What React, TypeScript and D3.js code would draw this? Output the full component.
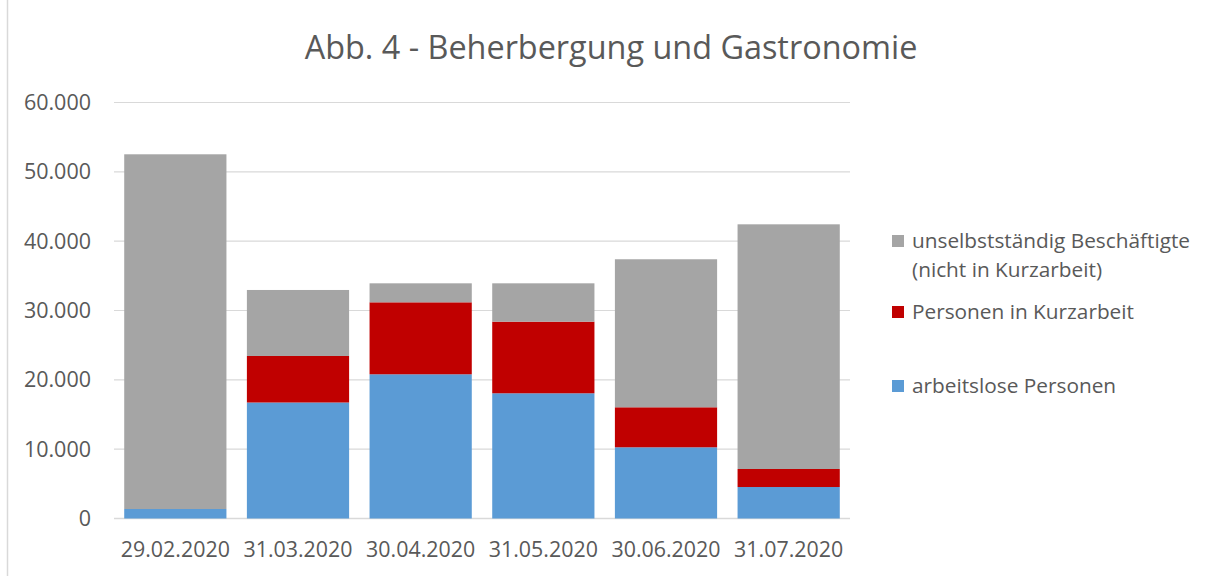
import { useEffect, useRef } from 'react';
import * as d3 from 'd3';

const dates = ["29.02.2020", "31.03.2020", "30.04.2020", "31.05.2020", "30.06.2020", "31.07.2020"];
const arbeitslos = [1370, 16730, 20800, 18060, 10270, 4540];
const kurzarbeit = [0, 6710, 10380, 10330, 5770, 2600];
const beschaeftigt = [51160, 9520, 2740, 5530, 21350, 35290];
const yTicks = [0, 10000, 20000, 30000, 40000, 50000, 60000];

const seriesKeys = ["arbeitslos", "kurzarbeit", "beschaeftigt"];
const seriesColors = { arbeitslos: "#5b9bd5", kurzarbeit: "#c00000", beschaeftigt: "#a5a5a5" };

const W = 1215;
const H = 576;
const FONT = "'Open Sans', Lato, sans-serif";
const TEXT = "#595959";

const App = () => {
  const svgRef = useRef<SVGSVGElement>(null);

  useEffect(() => {
    if (!svgRef.current) return;
    const svg = d3.select(svgRef.current);
    svg.selectAll("*").remove();

    const plot = { left: 114, right: 850, top: 102.5, bottom: 518.5 };

    // outer frame line (left edge of chart area)
    svg.append("line")
      .attr("x1", 7.5).attr("x2", 7.5)
      .attr("y1", 0).attr("y2", H)
      .attr("stroke", "#d9d9d9").attr("stroke-width", 1.5);

    // title
    svg.append("text")
      .attr("x", 611)
      .attr("y", 59)
      .attr("text-anchor", "middle")
      .style("font-family", FONT)
      .style("font-size", "32.4px")
      .style("fill", TEXT)
      .text("Abb. 4 - Beherbergung und Gastronomie");

    const x = d3.scaleBand()
      .domain(dates)
      .range([plot.left, plot.right])
      .paddingInner(0.1667)
      .paddingOuter(0.0833);

    const y = d3.scaleLinear()
      .domain([0, 60000])
      .range([plot.bottom, plot.top]);

    // gridlines
    svg.append("g")
      .selectAll("line")
      .data(yTicks)
      .enter()
      .append("line")
      .attr("x1", plot.left)
      .attr("x2", plot.right)
      .attr("y1", d => y(d))
      .attr("y2", d => y(d))
      .attr("stroke", "#d9d9d9")
      .attr("stroke-width", d => d === 0 ? 1.5 : 1.2);

    // y labels
    const fmt = (v: number) => v === 0 ? "0" : d3.format(",")(v).replace(/,/g, ".");
    svg.append("g")
      .selectAll("text")
      .data(yTicks)
      .enter()
      .append("text")
      .attr("x", 91)
      .attr("y", d => y(d))
      .attr("dy", "0.35em")
      .attr("text-anchor", "end")
      .style("font-family", FONT)
      .style("font-size", "21.5px")
      .style("fill", TEXT)
      .text(d => fmt(d));

    // stacked bars
    const table = dates.map((date, i) => ({
      date,
      arbeitslos: arbeitslos[i],
      kurzarbeit: kurzarbeit[i],
      beschaeftigt: beschaeftigt[i],
    }));
    const stacked = d3.stack<any>().keys(seriesKeys)(table);

    svg.append("g")
      .selectAll("g")
      .data(stacked)
      .enter()
      .append("g")
      .attr("fill", d => seriesColors[d.key as keyof typeof seriesColors])
      .selectAll("rect")
      .data(d => d)
      .enter()
      .append("rect")
      .attr("x", d => x(d.data.date) as number)
      .attr("width", x.bandwidth())
      .attr("y", d => y(d[1]))
      .attr("height", d => y(d[0]) - y(d[1]));

    // x labels
    svg.append("g")
      .selectAll("text")
      .data(dates)
      .enter()
      .append("text")
      .attr("x", d => (x(d) as number) + x.bandwidth() / 2)
      .attr("y", 550)
      .attr("dy", "0.35em")
      .attr("text-anchor", "middle")
      .style("font-family", FONT)
      .style("font-size", "21.4px")
      .style("fill", TEXT)
      .text(d => d);

    // legend
    const legend = [
      { key: "beschaeftigt", lines: ["unselbstständig Beschäftigte", "(nicht in Kurzarbeit)"], y: 241 },
      { key: "kurzarbeit", lines: ["Personen in Kurzarbeit"], y: 312 },
      { key: "arbeitslos", lines: ["arbeitslose Personen"], y: 386 },
    ];
    const lg = svg.append("g");
    legend.forEach(item => {
      lg.append("rect")
        .attr("x", 892)
        .attr("y", item.y - 6)
        .attr("width", 12)
        .attr("height", 12)
        .attr("fill", seriesColors[item.key as keyof typeof seriesColors]);
      item.lines.forEach((line, j) => {
        lg.append("text")
          .attr("x", 912)
          .attr("y", item.y + j * 29)
          .attr("dy", "0.35em")
          .style("font-family", FONT)
          .style("font-size", "20.8px")
          .style("fill", TEXT)
          .text(line);
      });
    });
  }, []);

  return (
    <svg
      ref={svgRef}
      width={W}
      height={H}
      style={{ position: "absolute", left: 0, top: 0, background: "#fff" }}
    />
  );
};

export default App;
